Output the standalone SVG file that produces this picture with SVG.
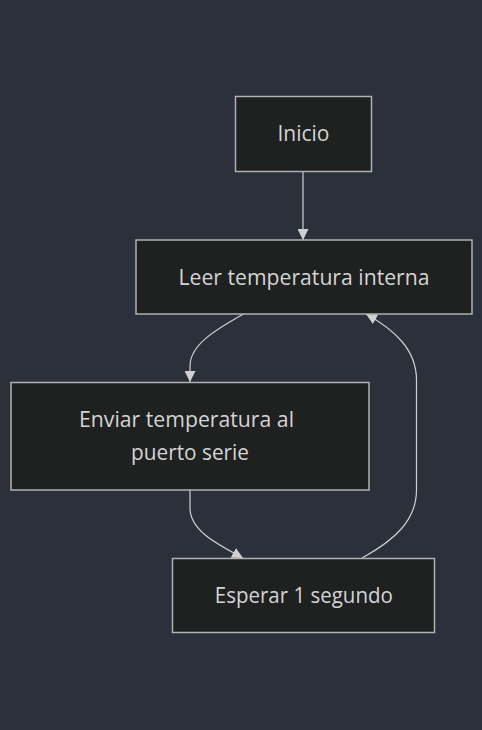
<svg xmlns="http://www.w3.org/2000/svg" width="482" height="730" viewBox="0 0 482 730">
<style>
.node rect{fill:#1f2020;stroke:#b0b0b0;stroke-width:1.5}
.node text{fill:#d4d4d4;font-family:"Open Sans","Noto Sans",sans-serif;font-size:21px;text-anchor:middle}
.edge{fill:none;stroke:#d0d0d0;stroke-width:1.2}
</style>
<defs>
<marker id="arrow" viewBox="0 0 10 10" refX="10" refY="5" markerWidth="11" markerHeight="11" markerUnits="userSpaceOnUse" orient="auto">
<path d="M0,0 L10,5 L0,10 z" fill="#d0d0d0"/>
</marker>
</defs>
<rect width="482" height="730" fill="#2b303b"/>
<g id="connectors">
<path class="edge" d="M303,171 L303,240" marker-end="url(#arrow)"/>
<path class="edge" d="M243.5,314 C215,330 190,345 190,366 L190,382" marker-end="url(#arrow)"/>
<path class="edge" d="M190,490 L190,508 C190,530 215,543 243,558" marker-end="url(#arrow)"/>
<path class="edge" d="M362,558 C395,540 416.5,520 416.5,490 L416.5,380 C416.5,350 395,330 366,314" marker-end="url(#arrow)"/>
</g>
<g id="inicio" class="node">
<rect x="235.5" y="96.5" width="136" height="75"/>
<text x="303.5" y="140.7" textLength="52" lengthAdjust="spacingAndGlyphs">Inicio</text>
</g>
<g id="leer" class="node">
<rect x="136" y="240" width="336" height="74"/>
<text x="304" y="285.3" textLength="251" lengthAdjust="spacingAndGlyphs">Leer temperatura interna</text>
</g>
<g id="enviar" class="node">
<rect x="11" y="382.5" width="358" height="107.5"/>
<text x="186.5" y="427" textLength="215" lengthAdjust="spacingAndGlyphs">Enviar temperatura al</text>
<text x="190" y="460" textLength="118" lengthAdjust="spacingAndGlyphs">puerto serie</text>
</g>
<g id="esperar" class="node">
<rect x="172.5" y="558.5" width="262" height="74"/>
<text x="303.8" y="603.3" textLength="178" lengthAdjust="spacingAndGlyphs">Esperar 1 segundo</text>
</g>
</svg>
